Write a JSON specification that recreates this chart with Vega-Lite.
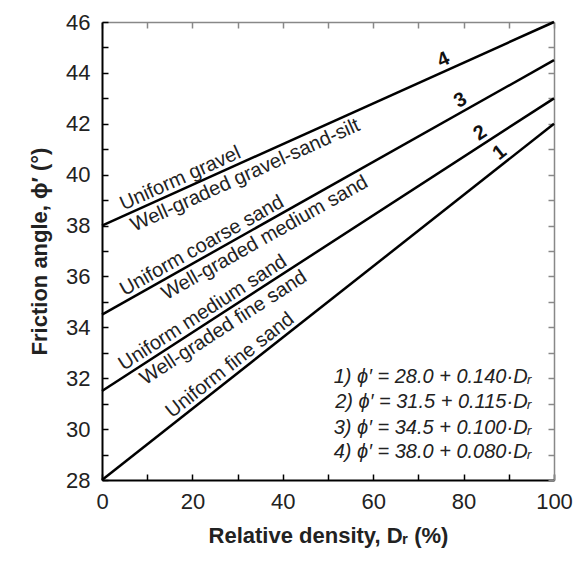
{
  "$schema": "https://vega.github.io/schema/vega-lite/v6.json",
  "width": 452,
  "height": 458,
  "autosize": "none",
  "padding": {"left": 102, "top": 22, "right": 33, "bottom": 82},
  "background": "white",
  "config": {"view": {"stroke": null}, "font": "Liberation Sans"},
  "datasets": {
    "lines": [
      {"line": "1", "dr": 0, "phi": 28.0}, {"line": "1", "dr": 100, "phi": 42.0},
      {"line": "2", "dr": 0, "phi": 31.5}, {"line": "2", "dr": 100, "phi": 43.0},
      {"line": "3", "dr": 0, "phi": 34.5}, {"line": "3", "dr": 100, "phi": 44.5},
      {"line": "4", "dr": 0, "phi": 38.0}, {"line": "4", "dr": 100, "phi": 46.0}
    ],
    "above": [
      {"line": "4", "label": "Uniform gravel", "dr": 18.3, "phi": 39.46},
      {"line": "3", "label": "Uniform coarse sand", "dr": 23.3, "phi": 36.83},
      {"line": "2", "label": "Uniform medium sand", "dr": 23.6, "phi": 34.21},
      {"line": "1", "label": "Uniform fine sand", "dr": 29.8, "phi": 32.17}
    ],
    "below": [
      {"line": "4", "label": "Well-graded gravel-sand-silt", "dr": 30.5, "phi": 40.44},
      {"line": "3", "label": "Well-graded medium sand", "dr": 34.6, "phi": 37.96},
      {"line": "2", "label": "Well-graded fine sand", "dr": 25.3, "phi": 34.41}
    ],
    "nums": [
      {"line": "4", "label": "4", "dr": 76.5, "phi": 44.12},
      {"line": "3", "label": "3", "dr": 80.5, "phi": 42.55},
      {"line": "2", "label": "2", "dr": 85.0, "phi": 41.28},
      {"line": "1", "label": "1", "dr": 89.5, "phi": 40.53}
    ],
    "eqs": [
      {"eq": "1) ϕ′ = 28.0 + 0.140·Dᵣ", "dr": 95, "phi": 32.05},
      {"eq": "2) ϕ′ = 31.5 + 0.115·Dᵣ", "dr": 95, "phi": 31.05},
      {"eq": "3) ϕ′ = 34.5 + 0.100·Dᵣ", "dr": 95, "phi": 30.05},
      {"eq": "4) ϕ′ = 38.0 + 0.080·Dᵣ", "dr": 95, "phi": 29.12}
    ]
  },
  "layer": [
    {
      "data": {"name": "lines"},
      "mark": {"type": "line", "color": "black", "strokeWidth": 2.5},
      "encoding": {
        "x": {
          "field": "dr", "type": "quantitative",
          "scale": {"domain": [0, 100], "nice": false, "zero": false},
          "axis": {
            "orient": "bottom",
            "values": [0, 10, 20, 30, 40, 50, 60, 70, 80, 90, 100],
            "labelExpr": "datum.value % 20 === 0 ? datum.label : ''",
            "grid": false,
            "domainColor": "black", "domainWidth": 2,
            "tickColor": "black", "tickWidth": 1.5,
            "tickSize": -6,
            "labelPadding": 17,
            "labelFontSize": 22, "labelColor": "#222", "labelFlush": false,
            "title": "Relative density, Dᵣ (%)",
            "titleFontSize": 22, "titleFontWeight": "bold", "titleColor": "#222",
            "titlePadding": 13
          }
        },
        "y": {
          "field": "phi", "type": "quantitative",
          "scale": {"domain": [28, 46], "nice": false, "zero": false},
          "axis": {
            "orient": "left",
            "values": [28, 29, 30, 31, 32, 33, 34, 35, 36, 37, 38, 39, 40, 41, 42, 43, 44, 45, 46],
            "labelExpr": "datum.value % 2 === 0 ? datum.label : ''",
            "grid": false,
            "domainColor": "black", "domainWidth": 2,
            "tickColor": "black", "tickWidth": 1.5,
            "tickSize": -6,
            "labelPadding": 18,
            "labelFontSize": 22, "labelColor": "#222", "labelFlush": false,
            "title": "Friction angle, ϕ′ (°)",
            "titleFontSize": 22, "titleFontWeight": "bold", "titleColor": "#222",
            "titlePadding": 14
          }
        },
        "detail": {"field": "line", "type": "nominal"}
      }
    },
    {
      "data": {"name": "above"},
      "mark": {"type": "text", "baseline": "bottom", "align": "center", "dy": -1, "fontSize": 20, "color": "#222"},
      "encoding": {
        "x": {
          "field": "dr", "type": "quantitative",
          "scale": {"domain": [0, 100], "nice": false, "zero": false},
          "axis": {
            "orient": "top",
            "values": [0, 10, 20, 30, 40, 50, 60, 70, 80, 90, 100],
            "labels": false, "title": null, "grid": false,
            "domainColor": "#888", "domainWidth": 1.5,
            "tickColor": "#888", "tickWidth": 1.5,
            "tickSize": -6
          }
        },
        "y": {
          "field": "phi", "type": "quantitative",
          "scale": {"domain": [28, 46], "nice": false, "zero": false},
          "axis": {
            "orient": "right",
            "values": [28, 29, 30, 31, 32, 33, 34, 35, 36, 37, 38, 39, 40, 41, 42, 43, 44, 45, 46],
            "labels": false, "title": null, "grid": false,
            "domainColor": "#888", "domainWidth": 1.5,
            "tickColor": "#888", "tickWidth": 1.5,
            "tickSize": -6
          }
        },
        "text": {"field": "label"},
        "angle": {"field": "line", "type": "ordinal", "scale": {"type": "ordinal", "domain": ["1", "2", "3", "4"], "range": [-38.24, -32.92, -29.38, -24.24]}, "legend": null}
      }
    },
    {
      "data": {"name": "below"},
      "mark": {"type": "text", "baseline": "top", "align": "center", "dy": 3, "fontSize": 20, "color": "#222"},
      "encoding": {
        "x": {"field": "dr", "type": "quantitative", "scale": {"domain": [0, 100], "nice": false, "zero": false}, "axis": null},
        "y": {"field": "phi", "type": "quantitative", "scale": {"domain": [28, 46], "nice": false, "zero": false}, "axis": null},
        "text": {"field": "label"},
        "angle": {"field": "line", "type": "ordinal", "scale": {"type": "ordinal", "domain": ["1", "2", "3", "4"], "range": [-38.24, -32.92, -29.38, -24.24]}, "legend": null}
      }
    },
    {
      "data": {"name": "nums"},
      "mark": {"type": "text", "baseline": "bottom", "align": "center", "dy": -1, "fontSize": 20, "fontWeight": "bold", "color": "#111"},
      "encoding": {
        "x": {"field": "dr", "type": "quantitative", "scale": {"domain": [0, 100], "nice": false, "zero": false}, "axis": null},
        "y": {"field": "phi", "type": "quantitative", "scale": {"domain": [28, 46], "nice": false, "zero": false}, "axis": null},
        "text": {"field": "label"},
        "angle": {"field": "line", "type": "ordinal", "scale": {"type": "ordinal", "domain": ["1", "2", "3", "4"], "range": [-38.24, -32.92, -29.38, -24.24]}, "legend": null}
      }
    },
    {
      "data": {"name": "eqs"},
      "mark": {"type": "text", "baseline": "middle", "align": "right", "fontSize": 20, "fontStyle": "italic", "color": "#222"},
      "encoding": {
        "x": {"field": "dr", "type": "quantitative", "scale": {"domain": [0, 100], "nice": false, "zero": false}, "axis": null},
        "y": {"field": "phi", "type": "quantitative", "scale": {"domain": [28, 46], "nice": false, "zero": false}, "axis": null},
        "text": {"field": "eq"}
      }
    }
  ],
  "resolve": {"axis": {"x": "independent", "y": "independent"}}
}
